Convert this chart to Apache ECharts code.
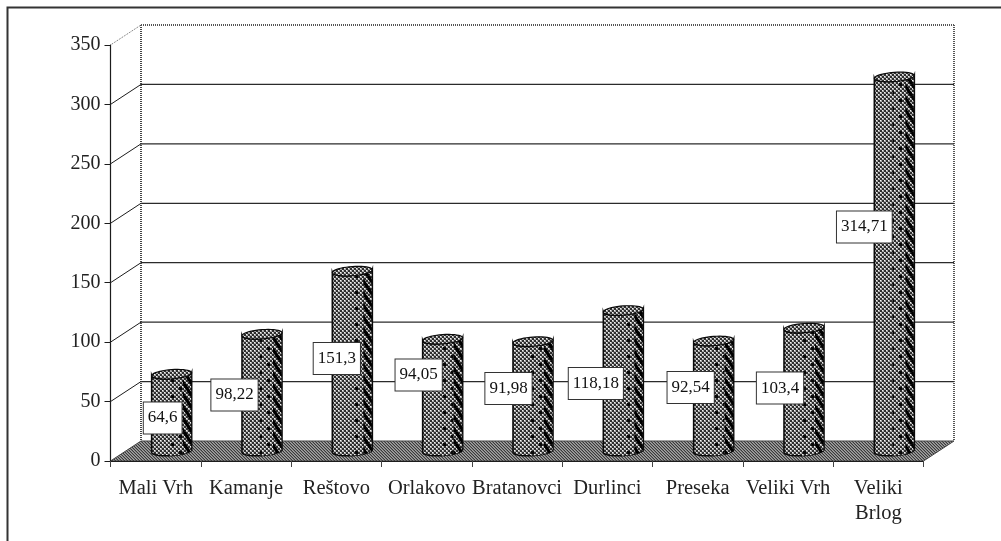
<!DOCTYPE html>
<html>
<head>
<meta charset="utf-8">
<style>html,body{margin:0;padding:0;background:#fff}#c{width:1001px;height:541px}</style>
<script src="https://cdn.jsdelivr.net/npm/echarts@6/dist/echarts.min.js"></script>
</head>
<body>
<div id="c"></div>
<script>
const categories = ['Mali Vrh','Kamanje','Reštovo','Orlakovo','Bratanovci','Durlinci','Preseka','Veliki Vrh','Veliki\nBrlog'];
const values = [64.6,98.22,151.3,94.05,91.98,118.18,92.54,103.4,314.71];
const valueLabels = ['64,6','98,22','151,3','94,05','91,98','118,18','92,54','103,4','314,71'];
const yTicks = [0,50,100,150,200,250,300,350];

// hand-placed label nudges, relative to each bar's top centre
const labelDx = [-9,-27.5,-15.5,-24,-24.5,-27.5,-23,-24,-30];
const labelDy = [33.8,50.7,77.3,25.8,36.8,63,36.5,50,140];
const depthX = 30.5, depthY = -20, barShift = 16, barHalf = 20, capDrop = 10, capRy = 4.6, baseLift = 10;
const ink = '#1c1c1c';
const serif = '"Liberation Serif","Times New Roman",serif';

function tile(w, h, draw) {
  const c = document.createElement('canvas');
  c.width = w; c.height = h;
  const g = c.getContext('2d');
  g.fillStyle = '#2e2e2e'; g.fillRect(0,0,w,h);
  draw(g, w, h);
  return {image: c, repeat: 'repeat'};
}
function checker(g, w, h) {
  for (let y = 0; y < h; y += 2) for (let x = 0; x < w; x += 2)
    if (((x + y) / 2) % 2 === 0) {
      g.fillStyle = '#a8a8a8'; g.fillRect(x, y, 2, 2);
      g.fillStyle = '#f4f4f4'; g.fillRect(x, y, 1, 1);
    }
}
const patBody = tile(4, 4, checker);
const patMid = tile(16, 16, function (g, w, h) {
  checker(g, w, h);
  g.fillStyle = '#0a0a0a';
  g.fillRect(3, 3, 3, 3); g.fillRect(11, 11, 3, 3);
});
const patSlash = tile(8, 12, function (g, w, h) {
  checker(g, w, h);
  g.strokeStyle = '#000'; g.lineWidth = 3.2;
  [-8, 0, 8].forEach(function (o) {
    g.beginPath(); g.moveTo(o, 0); g.lineTo(o + 8, 12); g.stroke();
  });
});
const patFloor = tile(3, 3, function (g) {
  g.fillStyle = '#3a3a3a';
  g.fillRect(0,0,1,1); g.fillRect(1,1,1,1); g.fillRect(2,2,1,1);
  g.fillStyle = '#a4a4a4';
  g.fillRect(1,0,1,1); g.fillRect(2,1,1,1); g.fillRect(0,2,1,1);
  g.fillStyle = '#7a7a7a';
  g.fillRect(2,0,1,1); g.fillRect(0,1,1,1); g.fillRect(1,2,1,1);
});

// half-ellipse outline, slightly tilted like the picture's perspective
function arc(cx, cy, rx, ry, from, to, n) {
  const pts = [];
  for (let i = 0; i <= n; i++) {
    const t = from + (to - from) * i / n;
    pts.push([cx + rx * Math.cos(t), cy + ry * Math.sin(t) - 1.4 * Math.cos(t)]);
  }
  return pts;
}
function band(cx, top, base, x0, x1) {
  const t = capRy;
  const f = function (dx) { return Math.sqrt(Math.max(0, 1 - dx * dx / (barHalf * barHalf))) * t; };
  const pts = [];
  for (let i = 0; i <= 8; i++) { const d = x0 + (x1 - x0) * i / 8; pts.push([cx + d, top + f(d) - 1.4 * d / barHalf]); }
  for (let i = 8; i >= 0; i--) { const d = x0 + (x1 - x0) * i / 8; pts.push([cx + d, base + f(d) - 1.4 * d / barHalf]); }
  return pts;
}

function renderGrid(params, api) {
  const p = api.coord([0, api.value(0)]);
  const s = params.coordSys;
  const isTop = api.value(0) === yTicks[yTicks.length - 1];
  const isZero = api.value(0) === 0;
  const y = p[1], x = s.x;
  const children = [];
  if (!isZero) {
    children.push({type:'line', shape:{x1:x, y1:y, x2:x + depthX, y2:y + depthY},
      style:{stroke: isTop ? '#666' : ink, lineWidth:1, lineDash: isTop ? [1,1] : null}});
    children.push({type:'line', shape:{x1:x + depthX, y1:y + depthY, x2:x + s.width + depthX, y2:y + depthY},
      style: isTop ? {stroke:'#555', lineWidth:2, lineDash:[1,1]} : {stroke:'#2b2b2b', lineWidth:1.2}});
  }
  return {type:'group', children: children};
}
function renderRoom(params) {
  const s = params.coordSys;
  const x0 = s.x, y0 = s.y, x1 = s.x + s.width, y1 = s.y + s.height;
  return {type:'group', children:[
    {type:'line', shape:{x1:x0 + depthX, y1:y0 + depthY, x2:x0 + depthX, y2:y1 + depthY}, style:{stroke:'#444', lineWidth:2, lineDash:[1,1]}},
    {type:'line', shape:{x1:x1 + depthX, y1:y0 + depthY, x2:x1 + depthX, y2:y1 + depthY}, style:{stroke:'#555', lineWidth:2, lineDash:[1,1]}},
    {type:'polygon', shape:{points:[[x0,y1],[x0 + depthX,y1 + depthY],[x1 + depthX,y1 + depthY],[x1,y1]]},
      style:{fill:patFloor, stroke:'#444', lineWidth:1}}
  ]};
}
function renderBar(params, api) {
  const p = api.coord([api.value(0), api.value(1)]);
  const zero = api.coord([api.value(0), 0]);
  const cx = p[0] + barShift, top = p[1] - capDrop, base = zero[1] - baseLift;
  const outline = [].concat(
    arc(cx, top, barHalf, capRy, Math.PI, 0, 20),
    arc(cx, base, barHalf, capRy, 0, Math.PI, 20)
  );
  return {type:'group', children:[
    {type:'polygon', shape:{points:outline}, style:{fill:patBody, stroke:'#0a0a0a', lineWidth:1.6}},
    {type:'polygon', shape:{points:band(cx, top, base, -2, 11)}, style:{fill:patMid}},
    {type:'polygon', shape:{points:band(cx, top, base, 11, barHalf - 0.5)}, style:{fill:patSlash}},
    {type:'polygon', shape:{points:arc(cx, top, barHalf, capRy, 0, Math.PI * 2, 40)}, style:{fill:patBody, stroke:'#0a0a0a', lineWidth:1.2}}
  ]};
}
function renderLabel(params, api) {
  const i = params.dataIndex;
  const p = api.coord([api.value(0), api.value(1)]);
  const cx = p[0] + barShift + labelDx[i], cy = p[1] + labelDy[i];
  return {type:'text', style:{
    x:cx, y:cy, text:valueLabels[i], align:'center', verticalAlign:'middle',
    font:'17px ' + serif, fill:'#111', lineHeight:19,
    backgroundColor:'#fff', borderColor:'#333', borderWidth:1, padding:[6,4]
  }};
}

const barData = values.map(function (v, i) { return [i, v]; });
const chart = echarts.init(document.getElementById('c'), null, {renderer:'canvas', width:1001, height:541});
chart.setOption({
  animation:false,
  backgroundColor:'#fff',
  graphic:[{type:'polyline', silent:true, shape:{points:[[7.5,541],[7.5,7.5],[1001,7.5]]}, style:{fill:'none', stroke:'#333', lineWidth:2}}],
  grid:{left:110.5, top:45, width:813, height:416, containLabel:false},
  xAxis:{type:'category', data:categories, boundaryGap:true, z:10,
    axisLine:{show:true, lineStyle:{color:ink, width:1}},
    axisTick:{show:true, length:6, alignWithLabel:false, lineStyle:{color:'#444', width:1}},
    axisLabel:{interval:0, margin:15, fontFamily:serif, fontSize:20.5, lineHeight:25, color:'#222'},
    splitLine:{show:false}},
  yAxis:{type:'value', min:0, max:350, interval:50, z:10,
    axisLine:{show:true, lineStyle:{color:ink, width:1.2}},
    axisTick:{show:true, length:6, lineStyle:{color:ink, width:1}},
    axisLabel:{margin:10, fontFamily:serif, fontSize:20, color:'#222', padding:[5,0,0,0]},
    splitLine:{show:false}},
  series:[
    {type:'custom', name:'room', z:1, silent:true, data:[[0,0]], renderItem:renderRoom, encode:{x:0,y:1}},
    {type:'custom', name:'grid', z:2, silent:true, data:yTicks.map(function(t){return [t];}), renderItem:renderGrid, encode:{y:0}},
    {type:'custom', name:'bars', z:3, silent:true, data:barData, renderItem:renderBar, encode:{x:0,y:1}},
    {type:'custom', name:'labels', z:4, silent:true, data:barData, renderItem:renderLabel, encode:{x:0,y:1}}
  ]
});
</script>
</body>
</html>
